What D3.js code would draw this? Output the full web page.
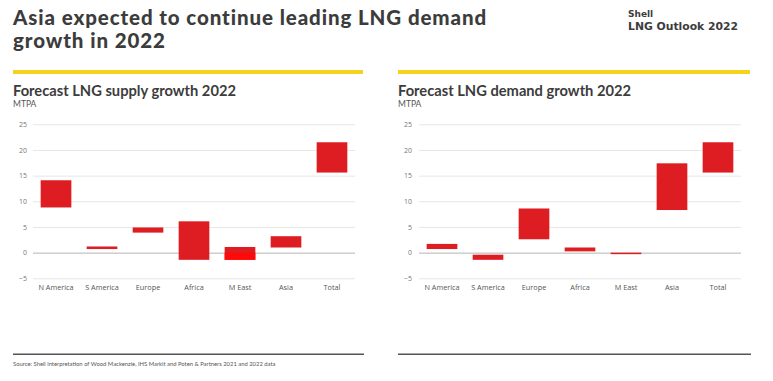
<!DOCTYPE html>
<html><head><meta charset="utf-8">
<script src="https://cdn.jsdelivr.net/npm/d3@7"></script>
<style>body{margin:0;background:#fff;}svg{display:block;}</style>
</head><body>
<script>
const categories = ["N America","S America","Europe","Africa","M East","Asia","Total"];
const supplyLow  = [8.8, 0.7, 3.9, -1.4, -1.4, 1.0, 15.6];
const supplyHigh = [14.1, 1.2, 4.9, 6.1, 1.1, 3.2, 21.5];
const supplyAccentLow  = [null,null,null,null,-1.4,null,null];
const supplyAccentHigh = [null,null,null,null,0,null,null];
const demandLow  = [0.7, -1.4, 2.6, 0.25, -0.3, 8.3, 15.6];
const demandHigh = [1.7, -0.4, 8.6, 1.0, 0.0, 17.4, 21.5];
const yTicks = [-5,0,5,10,15,20,25];
const title = ["Asia expected to continue leading LNG demand","growth in 2022"];
const panelTitles = ["Forecast LNG supply growth 2022","Forecast LNG demand growth 2022"];
const unit = "MTPA";
const source = "Source: Shell interpretation of Wood Mackenzie, IHS Markit and Poten & Partners 2021 and 2022 data";

const W=773,H=381;
const svg=d3.select("body").append("svg").attr("width",W).attr("height",H);
const red="#dd1d21", dark="#3c3c3c";

svg.append("text").attr("x",13).attr("y",24.5).attr("font-family","Lato").attr("font-weight",900)
  .attr("font-size",20.5).attr("letter-spacing",0.9).attr("fill",dark).text(title[0]);
svg.append("text").attr("x",13).attr("y",48).attr("font-family","Lato").attr("font-weight",900)
  .attr("font-size",20.5).attr("letter-spacing",0.9).attr("fill",dark).text(title[1]);
svg.append("text").attr("x",628).attr("y",17).attr("font-family","DejaVu Sans").attr("font-weight",700)
  .attr("font-size",9).attr("fill",dark).text("Shell");
svg.append("text").attr("x",628).attr("y",29.5).attr("font-family","DejaVu Sans").attr("font-weight",700)
  .attr("font-size",10.8).attr("fill",dark).text("LNG Outlook 2022");

const panels=[
  {x0:13,x1:363,gx0:33,gx1:355,lab:27,low:supplyLow,high:supplyHigh,aL:supplyAccentLow,aH:supplyAccentHigh,title:panelTitles[0]},
  {x0:398,x1:750,gx0:419,gx1:741,lab:412,low:demandLow,high:demandHigh,aL:null,aH:null,title:panelTitles[1]}
];
const y=d3.scaleLinear().domain([-5,25]).range([278.3,124.3]);

panels.forEach(p=>{
  svg.append("rect").attr("x",p.x0).attr("y",70).attr("width",p.x1-p.x0).attr("height",4).attr("fill","#f5d21c");
  svg.append("text").attr("x",p.x0).attr("y",96).attr("font-family","Lato").attr("font-weight",700)
    .attr("font-size",14.7).attr("fill",dark).text(p.title);
  svg.append("text").attr("x",p.x0).attr("y",107).attr("font-family","Lato")
    .attr("font-size",8.5).attr("fill","#555").text(unit);
  svg.append("line").attr("x1",p.x0).attr("x2",p.x1+1).attr("y1",354.3).attr("y2",354.3)
    .attr("stroke","#555").attr("stroke-width",1.5);

  const x=d3.scaleBand().domain(categories).range([p.gx0,p.gx1]).paddingInner(0.333).paddingOuter(0.1667);
  const g=svg.append("g");
  const ya=g.append("g").attr("transform",`translate(${p.gx0},0)`)
    .call(d3.axisLeft(y).tickValues(yTicks).tickSize(-(p.gx1-p.gx0)).tickPadding(p.gx0-p.lab));
  ya.select(".domain").remove();
  ya.selectAll(".tick line").attr("stroke",d=>d===0?"#b5b5b5":"#e6e6e6").attr("stroke-width",1);
  ya.selectAll(".tick text").attr("font-family","Open Sans").attr("font-size",7).attr("fill","#777");

  const xa=g.append("g").attr("transform",`translate(0,281.5)`).call(d3.axisBottom(x).tickSize(0).tickPadding(3));
  xa.select(".domain").remove();
  xa.selectAll(".tick text").attr("font-family","Open Sans").attr("font-size",7.3).attr("fill","#555");

  g.selectAll("rect.bar").data(categories).enter().append("rect").attr("class","bar")
    .attr("x",d=>x(d)).attr("width",x.bandwidth())
    .attr("y",(d,i)=>y(p.high[i])).attr("height",(d,i)=>Math.max(1,y(p.low[i])-y(p.high[i])))
    .attr("fill",red);
  if(p.aL){
    g.selectAll("rect.acc").data(categories.filter((d,i)=>p.aL[i]!==null)).enter().append("rect").attr("class","acc")
      .attr("x",d=>x(d)).attr("width",x.bandwidth())
      .attr("y",d=>y(p.aH[categories.indexOf(d)]))
      .attr("height",d=>{const i=categories.indexOf(d);return y(p.aL[i])-y(p.aH[i]);})
      .attr("fill","#ff0a0a");
  }
});

svg.append("text").attr("x",13).attr("y",366).attr("font-family","Lato")
  .attr("font-size",5.85).attr("fill","#555").text(source);
</script>
</body></html>
